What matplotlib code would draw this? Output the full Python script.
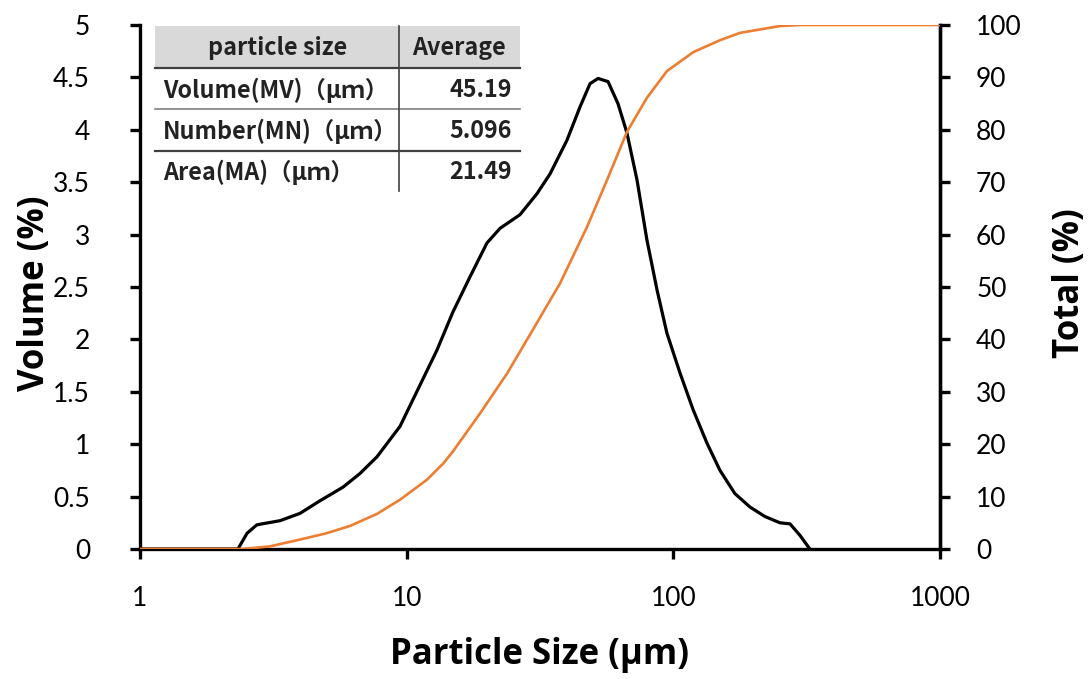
import matplotlib
matplotlib.use("Agg")
import matplotlib.pyplot as plt
from matplotlib.patches import Rectangle

# ---- data ----
vol_sizes = [1, 2.33, 2.52, 2.74, 2.87, 3.35, 3.98, 4.73, 5.77, 6.68, 7.74, 9.44, 11.2,
             13.0, 14.9, 17.3, 20.0, 22.4, 26.6, 30.8, 34.5, 39.9, 44.7, 48.7, 52.2,
             56.9, 62.0, 67.0, 73.1, 79.6, 86.9, 94.6, 105.9, 118.6, 133.7, 149.6,
             170.0, 193.9, 220.6, 251.0, 273.8, 298.5, 325.0]
vol_values = [0, 0, 0.15, 0.23, 0.24, 0.27, 0.34, 0.46, 0.59, 0.72, 0.88, 1.17, 1.56,
              1.90, 2.26, 2.60, 2.92, 3.06, 3.19, 3.39, 3.58, 3.90, 4.22, 4.44, 4.49,
              4.46, 4.25, 3.97, 3.52, 2.95, 2.47, 2.06, 1.68, 1.33, 1.01, 0.75,
              0.53, 0.40, 0.31, 0.25, 0.24, 0.13, 0]

cum_sizes = [1, 2.43, 3.07, 3.98, 5.0, 6.13, 7.74, 9.44, 11.9, 13.7, 14.9, 18.8, 23.8,
             29.7, 37.6, 47.5, 56.4, 67.0, 79.6, 94.6, 118.6, 149.6, 177.8, 251.0,
             298.5, 1000]
cum_values = [0, 0, 0.5, 1.8, 3.0, 4.4, 6.7, 9.4, 13.2, 16.3, 18.6, 25.8, 33.5,
              41.8, 50.7, 61.5, 70.4, 79.6, 86.1, 91.2, 94.8, 97.1, 98.5, 99.8,
              100, 100]

x_ticks = [1, 10, 100, 1000]
x_tick_labels = ["1", "10", "100", "1000"]
left_ticks = [0, 0.5, 1, 1.5, 2, 2.5, 3, 3.5, 4, 4.5, 5]
left_tick_labels = ["0", "0.5", "1", "1.5", "2", "2.5", "3", "3.5", "4", "4.5", "5"]
right_ticks = [0, 10, 20, 30, 40, 50, 60, 70, 80, 90, 100]

table_header = ["particle size", "Average"]
table_labels = ["Volume(MV)（μｍ）", "Number(MN)（μｍ）", "Area(MA)（μｍ）"]
table_values = ["45.19", "5.096", "21.49"]

# ---- figure ----
W, H = 1091, 679
fig = plt.figure(figsize=(W / 100, H / 100), dpi=100)
L, R, T, B = 140, 940, 25, 549
ax = fig.add_axes([L / W, (H - B) / H, (R - L) / W, (B - T) / H])
ax2 = ax.twinx()

tick_font = ["Lato", "DejaVu Sans"]
label_font = ["Open Sans", "DejaVu Sans"]

ax.plot(vol_sizes, vol_values, color="black", lw=2.3, zorder=3,
        solid_joinstyle="round", solid_capstyle="round")
ax2.plot(cum_sizes, cum_values, color="#ED7D31", lw=1.9, zorder=3,
         solid_joinstyle="round")

ax.set_xscale("log")
ax.set_xlim(1, 1000)
ax.set_ylim(0, 5)
ax2.set_ylim(0, 100)
ax.set_xticks(x_ticks)
ax.set_xticklabels(x_tick_labels)
ax.xaxis.set_minor_locator(matplotlib.ticker.NullLocator())
ax.set_yticks(left_ticks)
ax.set_yticklabels(left_tick_labels)
ax2.set_yticks(right_ticks)
ax2.set_yticklabels([str(v) for v in right_ticks])

for a in (ax, ax2):
    a.spines["top"].set_visible(False)
    for s in ("left", "right", "bottom"):
        a.spines[s].set_linewidth(2.4)
    a.tick_params(which="major", direction="out", length=7, width=2.4, labelsize=19)
    for lbl in a.get_xticklabels() + a.get_yticklabels():
        lbl.set_family(tick_font)
ax.tick_params(axis="x", pad=20)
ax.tick_params(axis="y", pad=29)
ax2.tick_params(axis="y", pad=19)
ax2.spines["left"].set_visible(False)
ax2.spines["bottom"].set_visible(False)

ax.set_xlabel("Particle Size (μm)", fontsize=25, fontweight="bold", family=label_font)
ax.set_ylabel("Volume (%)", fontsize=25, fontweight="bold", family=label_font)
ax2.set_ylabel("Total (%)", fontsize=25, fontweight="bold", family=label_font)


def fx(px):
    return (px - L) / (R - L)


def fy(py):
    return (B - py) / (B - T)


ax.xaxis.set_label_coords(fx(540), fy(655))
ax.xaxis.label.set_va("center")
ax.yaxis.set_label_coords(fx(35), fy(293))
ax.yaxis.label.set_va("center")
ax2.yaxis.set_label_coords(fx(1070), fy(283))
ax2.yaxis.label.set_va("center")

# ---- table ----
tr = ax2.transAxes
tl, trt, tsplit = 155, 520, 399
ax2.add_patch(Rectangle((fx(tl), fy(68)), fx(trt) - fx(tl), fy(26) - fy(68),
                        transform=tr, facecolor="#d9d9d9", edgecolor="none", zorder=4))
ax2.plot([fx(tl), fx(trt)], [fy(68), fy(68)], transform=tr, color="#404040", lw=1.6, zorder=5)
ax2.plot([fx(tl), fx(trt)], [fy(109), fy(109)], transform=tr, color="#808080", lw=1.2, zorder=5)
ax2.plot([fx(tl), fx(trt)], [fy(151), fy(151)], transform=tr, color="#404040", lw=1.6, zorder=5)
ax2.plot([fx(tsplit), fx(tsplit)], [fy(26), fy(191)], transform=tr, color="#404040", lw=1.2, zorder=5)

tfont = ["Noto Sans CJK JP", "DejaVu Sans"]
tsize = 16.8
ax2.text(fx(278), fy(48), table_header[0], transform=tr, ha="center", va="center",
         fontsize=tsize, family=tfont, fontweight="bold", color="#222222", zorder=6)
ax2.text(fx(459), fy(48), table_header[1], transform=tr, ha="center", va="center",
         fontsize=tsize, family=tfont, fontweight="bold", color="#222222", zorder=6)
row_y = [90, 131, 172]
for lab, val, yy in zip(table_labels, table_values, row_y):
    ax2.text(fx(163), fy(yy), lab, transform=tr, ha="left", va="center",
             fontsize=tsize, family=tfont, fontweight="bold", color="#222222", zorder=6)
    ax2.text(fx(512), fy(yy), val, transform=tr, ha="right", va="center",
             fontsize=tsize, family=tfont, fontweight="bold", color="#222222", zorder=6)

fig.savefig("out.png", dpi=100)
